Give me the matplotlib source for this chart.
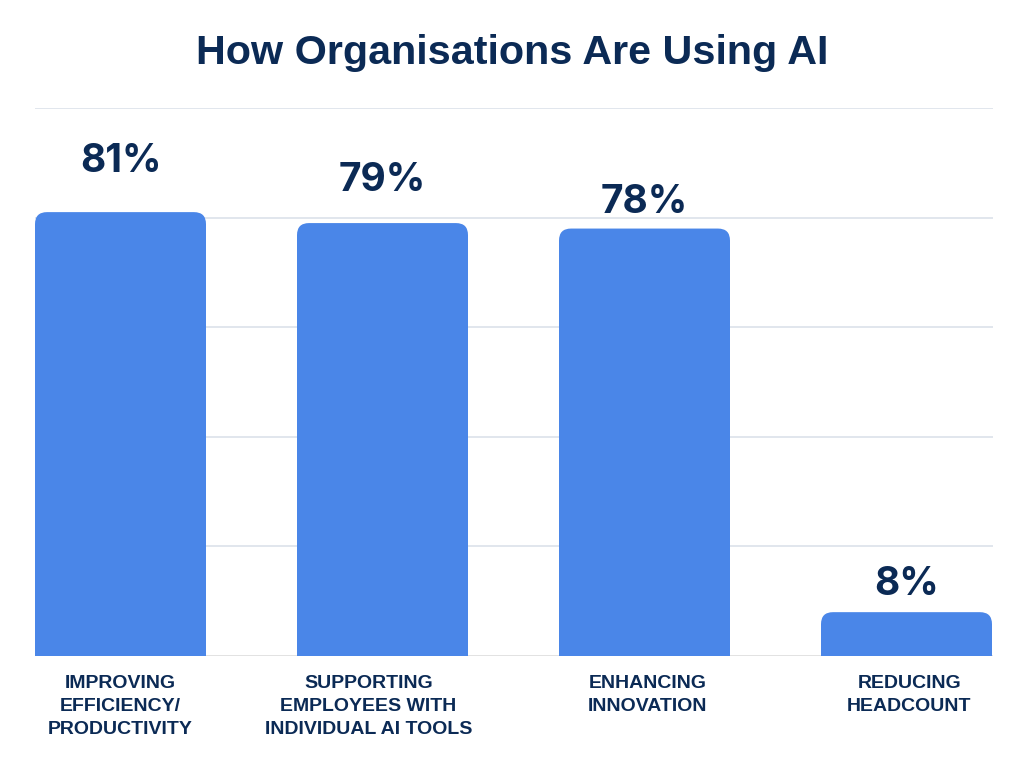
import matplotlib
matplotlib.use("Agg")
import matplotlib.pyplot as plt
from matplotlib.patches import FancyBboxPatch, Rectangle

categories = ["IMPROVING\nEFFICIENCY/\nPRODUCTIVITY",
              "SUPPORTING\nEMPLOYEES WITH\nINDIVIDUAL AI TOOLS",
              "ENHANCING\nINNOVATION",
              "REDUCING\nHEADCOUNT"]
values = [81, 79, 78, 8]
value_labels = ["81%", "79%", "78%", "8%"]
y_ticks = [0, 20, 40, 60, 80, 100]

NAVY = "#0b2a55"
BAR = "#4a86e8"
GRID = "#dbe2ea"

W, H = 1024, 768
fig = plt.figure(figsize=(W / 100, H / 100), dpi=100)
ax = fig.add_axes([35 / W, 112 / H, 958 / W, 548 / H])

bar_w = 171 / 262
x = list(range(len(values)))
ax.set_xlim(-85.5 / 262, 3 + 86.5 / 262)
ax.set_ylim(0, 100)

bars = ax.bar(x, values, width=bar_w, color=BAR, zorder=3)

# rounded top corners
ax_w_px, ax_h_px = 958, 548
xu_per_px = (ax.get_xlim()[1] - ax.get_xlim()[0]) / ax_w_px
yu_per_px = 100 / ax_h_px
r_px = 12
for b in bars:
    b.set_visible(False)
    x0, w, h = b.get_x(), b.get_width(), b.get_height()
    fb = FancyBboxPatch((x0, 0), w, h,
                        boxstyle=f"round,pad=0,rounding_size={r_px * xu_per_px}",
                        mutation_aspect=yu_per_px / xu_per_px,
                        facecolor=BAR, edgecolor="none", zorder=3)
    ax.add_patch(fb)
    ax.add_patch(Rectangle((x0, 0), w, min(h, r_px * yu_per_px * 1.5),
                           facecolor=BAR, edgecolor="none", zorder=3))

# gridlines
for t in y_ticks:
    ax.axhline(t, color=GRID if t > 0 else "#dddddd", lw=1.2, zorder=1)

for s in ax.spines.values():
    s.set_visible(False)
ax.set_yticks([])
ax.set_xticks(x)
ax.set_xticklabels(categories, fontsize=14, fontweight="bold", color=NAVY,
                   family="Liberation Sans", linespacing=1.45, va="top")
ax.tick_params(axis="x", length=0, pad=14)
label_dx_px = [0, -14, 3, 3]
import matplotlib.transforms as mtransforms
for lab, dx in zip(ax.get_xticklabels(), label_dx_px):
    lab.set_transform(lab.get_transform() +
                      mtransforms.ScaledTranslation(dx / 100, 0, fig.dpi_scale_trans))

label_gap_px = [32, 24, 8, 9]
for xi, v, lab, g in zip(x, values, value_labels, label_gap_px):
    ax.annotate(lab, (xi, v), xytext=(0, g * 0.72), textcoords="offset points",
                ha="center", va="bottom", fontsize=28, fontweight="bold",
                color=NAVY, family="Inter")

fig.text(0.5, 1 - 53 / H, "How Organisations Are Using AI", ha="center",
         va="center", fontsize=29.7, fontweight="bold", color=NAVY,
         family="Liberation Sans")

fig.savefig("out.png", dpi=100, facecolor="white")
